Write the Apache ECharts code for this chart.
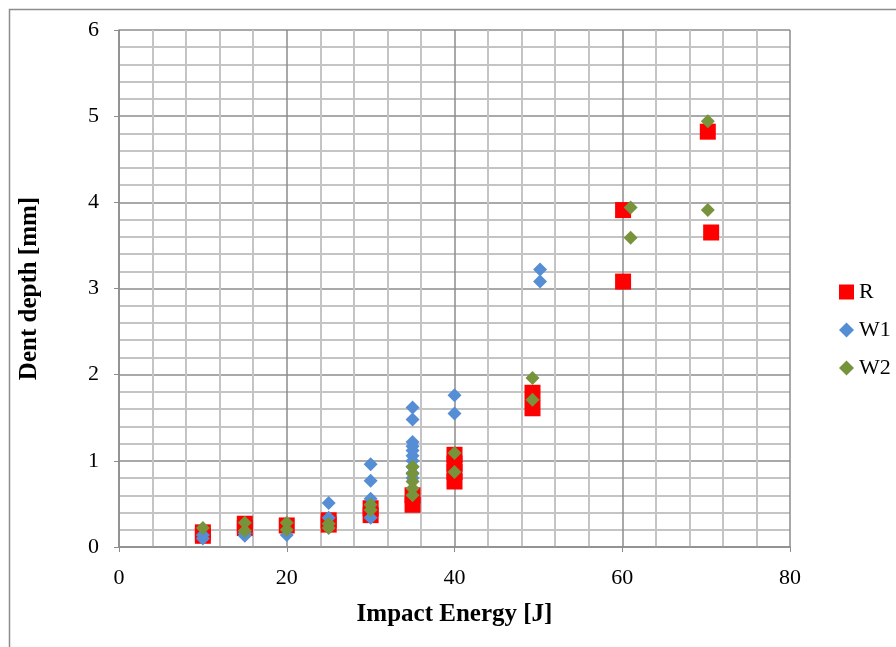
<!DOCTYPE html>
<html>
<head>
<meta charset="utf-8">
<script src="https://cdn.jsdelivr.net/npm/echarts@6/dist/echarts.min.js"></script>
<style>html,body{margin:0;padding:0;background:#fff;}#c{width:896px;height:647px;}</style>
</head>
<body>
<div id="c"></div>
<script>
var xTicks = [0, 20, 40, 60, 80];
var yTicks = [0, 1, 2, 3, 4, 5, 6];

var rX = [10, 10, 15, 15, 20, 25, 25, 30, 30, 35, 35, 40, 40, 40, 40, 49.3, 49.3, 60.1, 60.1, 70.2, 70.6];
var rY = [0.17, 0.13, 0.27, 0.22, 0.25, 0.31, 0.26, 0.45, 0.37, 0.6, 0.49, 1.07, 0.97, 0.87, 0.76, 1.79, 1.61, 3.91, 3.08, 4.82, 3.65];

var w1X = [10, 10, 15, 15, 20, 25, 25, 30, 30, 30, 30, 35, 35, 35, 35, 35, 35, 35, 35, 35, 35, 40, 40, 50.2, 50.2];
var w1Y = [0.1, 0.14, 0.13, 0.16, 0.14, 0.51, 0.34, 0.96, 0.77, 0.56, 0.34, 1.62, 1.48, 1.22, 1.17, 1.12, 1.06, 1.0, 0.93, 0.86, 0.8, 1.76, 1.55, 3.22, 3.08];

var w2X = [10, 15, 15, 20, 20, 25, 25, 30, 30, 35, 35, 35, 35, 35, 40, 40, 49.3, 49.3, 61, 61, 70.2, 70.2];
var w2Y = [0.22, 0.28, 0.19, 0.28, 0.2, 0.27, 0.22, 0.49, 0.43, 0.93, 0.85, 0.76, 0.68, 0.6, 1.09, 0.87, 1.96, 1.71, 3.94, 3.59, 4.94, 3.91];

function pairs(xs, ys) { return xs.map(function (x, i) { return [x, ys[i]]; }); }

var chart = echarts.init(document.getElementById('c'));
var serif = 'Liberation Serif';
chart.setOption({
  animation: false,
  backgroundColor: '#fff',
  graphic: [{
    type: 'rect', left: 7, top: 7, shape: { width: 1000, height: 800 },
    style: { fill: 'none', stroke: '#8c8c8c', lineWidth: 1.5 }, z: -10
  }],
  grid: { left: 119, right: 106, top: 30, bottom: 100, containLabel: false },
  xAxis: {
    type: 'value', min: xTicks[0], max: xTicks[xTicks.length - 1], interval: 20,
    name: 'Impact Energy [J]', nameLocation: 'middle', nameGap: 55,
    nameTextStyle: { fontFamily: serif, fontSize: 25, fontWeight: 'bold', color: '#000' },
    axisLine: { show: true, lineStyle: { color: '#8c8c8c', width: 1.5 } },
    axisTick: { show: true, inside: false, length: 5, lineStyle: { color: '#8c8c8c' } },
    axisLabel: { fontFamily: serif, fontSize: 22, color: '#000', margin: 20 },
    splitLine: { show: true, lineStyle: { color: '#8c8c8c', width: 1.5 } },
    minorTick: { show: true, splitNumber: 5, length: 0 },
    minorSplitLine: { show: true, lineStyle: { color: '#c4c4c4', width: 2 } }
  },
  yAxis: {
    type: 'value', min: yTicks[0], max: yTicks[yTicks.length - 1], interval: 1,
    name: 'Dent depth [mm]', nameLocation: 'middle', nameGap: 77, nameRotate: 90,
    nameTextStyle: { fontFamily: serif, fontSize: 25, fontWeight: 'bold', color: '#000' },
    axisLine: { show: true, lineStyle: { color: '#8c8c8c', width: 1.5 } },
    axisTick: { show: true, inside: false, length: 5, lineStyle: { color: '#8c8c8c' } },
    axisLabel: { fontFamily: serif, fontSize: 22, color: '#000', margin: 20 },
    splitLine: { show: true, lineStyle: { color: '#8c8c8c', width: 1.5 } },
    minorTick: { show: true, splitNumber: 5, length: 0 },
    minorSplitLine: { show: true, lineStyle: { color: '#c4c4c4', width: 2 } }
  },
  legend: {
    orient: 'vertical', left: 834, top: 276, itemGap: 16, itemWidth: 15, itemHeight: 15,
    textStyle: { fontFamily: serif, fontSize: 22, color: '#000' },
    data: [
      { name: 'R', icon: 'rect' },
      { name: 'W1', icon: 'diamond' },
      { name: 'W2', icon: 'diamond' }
    ]
  },
  series: [
    { name: 'R', type: 'scatter', symbol: 'rect', symbolSize: 16, itemStyle: { color: '#ff0000', opacity: 1 }, data: pairs(rX, rY), z: 2 },
    { name: 'W1', type: 'scatter', symbol: 'diamond', symbolSize: 14, itemStyle: { color: '#558ed5', opacity: 1 }, data: pairs(w1X, w1Y), z: 3 },
    { name: 'W2', type: 'scatter', symbol: 'diamond', symbolSize: 14, itemStyle: { color: '#77933c', opacity: 1 }, data: pairs(w2X, w2Y), z: 4 }
  ]
});
</script>
</body>
</html>
